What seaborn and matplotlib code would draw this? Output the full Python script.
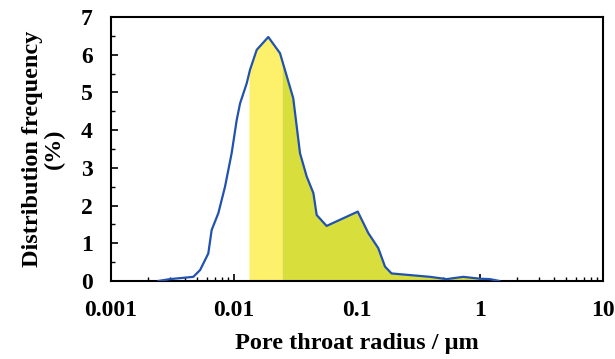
import numpy as np
import pandas as pd
import matplotlib
matplotlib.use("Agg")
import matplotlib.pyplot as plt
import seaborn as sns
from matplotlib.ticker import LogLocator, NullFormatter, MultipleLocator

radius = [0.00242, 0.00302, 0.00467, 0.0053, 0.00618, 0.00658, 0.00746, 0.00845,
          0.00957, 0.01052, 0.0112, 0.01268, 0.01349, 0.0153, 0.0190, 0.02366,
          0.0303, 0.0344, 0.0390, 0.0442, 0.047, 0.0566, 0.1014, 0.1236, 0.149,
          0.169, 0.191, 0.392, 0.536, 0.731, 1.0, 1.2, 1.44]
freq = [0.0, 0.05, 0.11, 0.29, 0.73, 1.35, 1.80, 2.50,
        3.39, 4.27, 4.71, 5.24, 5.60, 6.13, 6.47, 6.04,
        4.85, 3.39, 2.77, 2.33, 1.75, 1.46, 1.84, 1.27, 0.87,
        0.38, 0.20, 0.11, 0.05, 0.11, 0.06, 0.05, 0.0]
light_range = [0.01324, 0.0246]
green_range = [0.0246, 1.44]
xticks = [0.001, 0.01, 0.1, 1, 10]
xticklabels = ["0.001", "0.01", "0.1", "1", "10"]
yticks = [0, 1, 2, 3, 4, 5, 6, 7]

df = pd.DataFrame({"radius": radius, "freq": freq})

sns.set_theme(style="ticks")
plt.rcParams['font.family'] = ['Liberation Serif', 'DejaVu Serif']
plt.rcParams['font.weight'] = 'bold'
plt.rcParams['text.color'] = 'black'
plt.rcParams['axes.labelcolor'] = 'black'
plt.rcParams['xtick.color'] = 'black'
plt.rcParams['ytick.color'] = 'black'

fig = plt.figure(figsize=(6.15, 3.59), dpi=100)
ax = fig.add_axes([0.1805, 0.2173, 0.8, 0.7353])

# fills
lx = np.logspace(np.log10(light_range[0]), np.log10(light_range[1]), 100)
ly = np.interp(np.log10(lx), np.log10(radius), freq)
ax.fill_between(lx, 0, ly, color="#fdf06a", lw=0, zorder=1)
gx = np.logspace(np.log10(green_range[0]), np.log10(green_range[1]), 400)
gy = np.interp(np.log10(gx), np.log10(radius), freq)
ax.fill_between(gx, 0, gy, color="#d8de3c", lw=0, zorder=1)

sns.lineplot(data=df, x="radius", y="freq", ax=ax, color="#2152b0", lw=1.6, zorder=3)

ax.set_xscale("log")
ax.set_xlim(0.001, 10)
ax.set_ylim(0, 7)
ax.set_xticks(xticks)
ax.set_xticklabels(xticklabels)
ax.xaxis.set_minor_locator(LogLocator(base=10, subs=np.arange(2, 10)))
ax.xaxis.set_minor_formatter(NullFormatter())
ax.set_yticks(yticks)
ax.yaxis.set_minor_locator(MultipleLocator(0.5))

ax.tick_params(axis="both", which="major", direction="in", length=5, width=1.2,
               labelsize=17, colors="black")
ax.tick_params(axis="x", which="major", pad=14)
ax.tick_params(axis="y", which="major", pad=13)
ax.tick_params(axis="both", which="minor", direction="in", length=3, width=1.0)
for lab in ax.get_xticklabels() + ax.get_yticklabels():
    lab.set_fontweight("bold")
for s in ax.spines.values():
    s.set_linewidth(1.5)
    s.set_color("black")

ax.set_xlabel("Pore throat radius / μm", fontsize=17.5, fontweight="bold", labelpad=8)
ax.set_ylabel("Distribution frequency\n(%)", fontsize=17.5, fontweight="bold",
              labelpad=12, linespacing=1.0)

fig.savefig("out.png", dpi=100)
